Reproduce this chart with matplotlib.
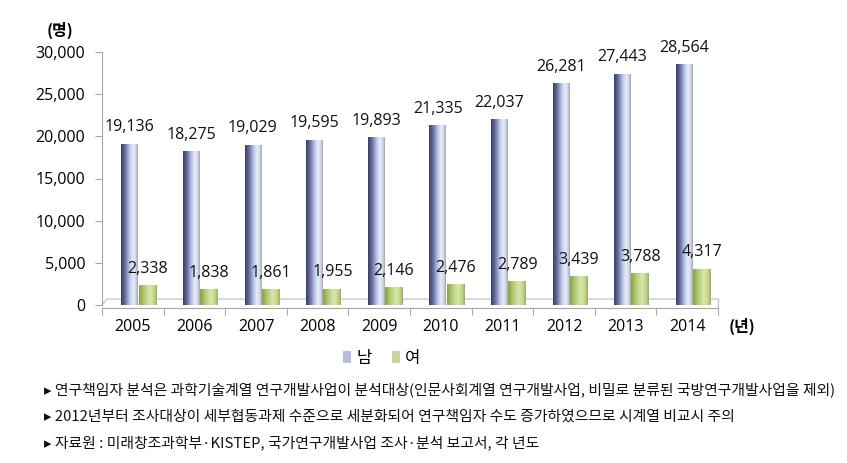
import matplotlib
matplotlib.use("Agg")
import matplotlib.pyplot as plt
import numpy as np
from matplotlib.colors import LinearSegmentedColormap
from matplotlib.patches import Patch

plt.rcParams['font.family'] = ['Open Sans', 'Noto Sans CJK KR', 'DejaVu Sans']

years = ['2005', '2006', '2007', '2008', '2009', '2010', '2011', '2012', '2013', '2014']
male = [19136, 18275, 19029, 19595, 19893, 21335, 22037, 26281, 27443, 28564]
female = [2338, 1838, 1861, 1955, 2146, 2476, 2789, 3439, 3788, 4317]
series_names = ['남', '여']
yticks = [0, 5000, 10000, 15000, 20000, 25000, 30000]
notes = [
    '▸ 연구책임자 분석은 과학기술계열 연구개발사업이 분석대상(인문사회계열 연구개발사업, 비밀로 분류된 국방연구개발사업을 제외)',
    '▸ 2012년부터 조사대상이 세부협동과제 수준으로 세분화되어 연구책임자 수도 증가하였으므로 시계열 비교시 주의',
    '▸ 자료원 : 미래창조과학부·KISTEP, 국가연구개발사업 조사·분석 보고서, 각 년도',
]

W, H = 847, 463
fig = plt.figure(figsize=(W / 100, H / 100), dpi=100)
ax = fig.add_axes([102 / W, (H - 305) / H, (718 - 102) / W, (305 - 52) / H])

x = np.arange(len(years))

male_cmap = LinearSegmentedColormap.from_list('m', [
    (0.0, '#3a3d66'), (0.25, '#6a70a0'), (0.5, '#b8c2ea'),
    (0.72, '#e9eefc'), (0.9, '#cdd3e2'), (1.0, '#9aa0b2')])
fem_cmap = LinearSegmentedColormap.from_list('f', [
    (0.0, '#8aa24a'), (0.3, '#b4cc78'), (0.6, '#d8e8a8'),
    (0.85, '#c2d68c'), (1.0, '#98ac5c')])

mb = ax.bar(x - 0.05, male, width=0.27, color='none', edgecolor='none', zorder=3)
fb = ax.bar(x + 0.24, female, width=0.29, color='none', edgecolor='none', zorder=3)

grad = np.linspace(0, 1, 64).reshape(1, -1)
for bars, cmap in ((mb, male_cmap), (fb, fem_cmap)):
    for r in bars:
        x0, w, h = r.get_x(), r.get_width(), r.get_height()
        im = ax.imshow(grad, cmap=cmap, aspect='auto', extent=[x0, x0 + w, 0, h],
                       zorder=3, interpolation='bicubic')
        im.set_clip_path(r)
ax.set_xlim(-0.5, len(years) - 0.5)
ax.set_ylim(0, 30000)

for bars, vals in ((mb, male), (fb, female)):
    for r, v in zip(bars, vals):
        ax.annotate(f'{v:,}', (r.get_x() + r.get_width() / 2, v), xytext=(0, 6),
                    textcoords='offset points', ha='center', va='bottom', fontsize=11.5,
                    color='#111111', zorder=5)

# floor (3D look)
floor_y = 700
ax.plot([-0.5, -0.42, 9.5], [0, floor_y, floor_y], color='#c8c8c8', lw=1, zorder=2, clip_on=False)
ax.plot([9.5, 9.5], [floor_y, -300], color='#c8c8c8', lw=1, zorder=2, clip_on=False)

for s in ['top', 'right']:
    ax.spines[s].set_visible(False)
ax.spines['left'].set_color('#a6a6a6')
ax.spines['bottom'].set_color('#a6a6a6')
ax.spines['bottom'].set_position(('data', -300))
ax.spines['bottom'].set_bounds(-0.5, 9.5)

ax.set_yticks(yticks)
ax.set_yticklabels([f'{v:,}' for v in yticks], fontsize=11.5)
ax.tick_params(axis='y', length=5, color='#a6a6a6', pad=7)

ax.set_xticks(np.arange(-0.5, len(years), 1.0), minor=False)
ax.set_xticklabels([])
ax.tick_params(axis='x', length=5, color='#a6a6a6', direction='out')
ax.set_xticks(x, minor=True)
ax.set_xticklabels(years, minor=True, fontsize=11.5)
ax.tick_params(axis='x', which='minor', length=0, pad=8)

fig.text(60 / W, 1 - 30 / H, '(명)', fontsize=11.5, fontweight='bold', ha='center', va='center',
         family=['Noto Sans CJK KR'])
fig.text(742 / W, 1 - 326 / H, '(년)', fontsize=11.5, fontweight='bold', ha='center', va='center',
         family=['Noto Sans CJK KR'])

handles = [Patch(facecolor='#b6bbe0', edgecolor='none'), Patch(facecolor='#c4d69a', edgecolor='none')]
fig.legend(handles, series_names, loc='center', bbox_to_anchor=(382 / W, 1 - 358 / H),
           ncol=2, frameon=False, handlelength=0.45, handleheight=0.75,
           handletextpad=0.35, columnspacing=1.2, borderpad=0, prop={'family': ['Noto Sans CJK KR'], 'size': 12})

for i, t in enumerate(notes):
    fig.text(44 / W, 1 - (390 + 26.5 * i) / H, t, fontsize=10.7, ha='left', va='center',
             family=['Noto Sans CJK KR', 'DejaVu Sans'], color='#111111')

fig.savefig('out.png', dpi=100)
